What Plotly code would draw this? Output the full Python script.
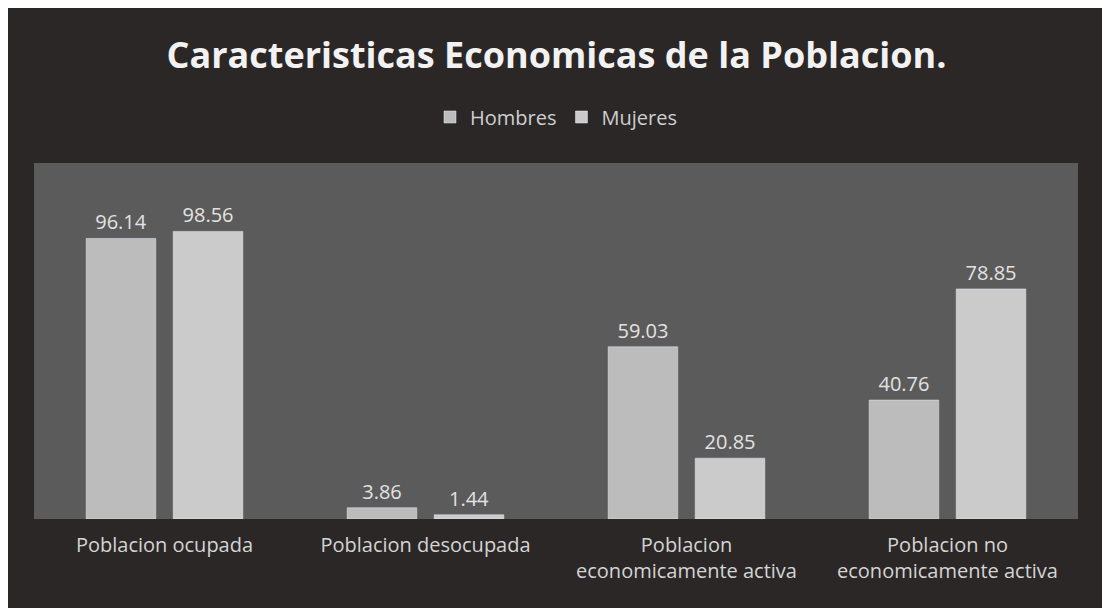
import plotly.graph_objects as go

## Data
categorias = [
    "Poblacion ocupada",
    "Poblacion desocupada",
    "Poblacion<br>economicamente activa",
    "Poblacion no<br>economicamente activa",
]
hombres = [96.14, 3.86, 59.03, 40.76]
mujeres = [98.56, 1.44, 20.85, 78.85]

## Colours
fondo = "#2b2727"
area = "#5c5b5b"
color_h = "#bcbcbc"
color_m = "#cbcbcb"
texto = "#e2e2e2"

fig = go.Figure()
fig.add_trace(go.Bar(
    name="Hombres", x=categorias, y=hombres,
    marker_color=color_h,
    text=[f"{v:.2f}" for v in hombres], textposition="outside",
    textfont=dict(size=20, color=texto), cliponaxis=False,
))
fig.add_trace(go.Bar(
    name="Mujeres", x=categorias, y=mujeres,
    marker_color=color_m,
    text=[f"{v:.2f}" for v in mujeres], textposition="outside",
    textfont=dict(size=20, color=texto), cliponaxis=False,
))

# the page body adds an 8px white edge, which acts as the white border of the scan
fig.update_layout(
    width=1097, height=600,
    margin=dict(l=26, r=27, t=155, b=89, autoexpand=False),
    paper_bgcolor=fondo,
    plot_bgcolor=area,
    barmode="group",
    bargap=0.333,
    bargroupgap=0.2,
    font=dict(family="Open Sans", color=texto),
    title=dict(
        text="<b>Caracteristicas Economicas de la Poblacion.</b>",
        x=0.5, xanchor="center", y=1 - 47 / 600, yanchor="middle", yref="container",
        font=dict(size=36, color="#f2f2f2", family="Open Sans"),
    ),
    legend=dict(
        orientation="h", x=0.5, xanchor="center", y=1 + 46 / 356, yanchor="middle",
        font=dict(size=20, color="#cfcfcf"), bgcolor="rgba(0,0,0,0)",
    ),
    showlegend=True,
)
fig.update_xaxes(showgrid=False, showline=False, automargin=False,
                 ticks="outside", ticklen=8, tickcolor="rgba(0,0,0,0)",
                 tickfont=dict(size=20, color="#d4d4d4"))
fig.update_yaxes(range=[0, 122], visible=False, showgrid=False, automargin=False)

fig.write_html("out.html")
